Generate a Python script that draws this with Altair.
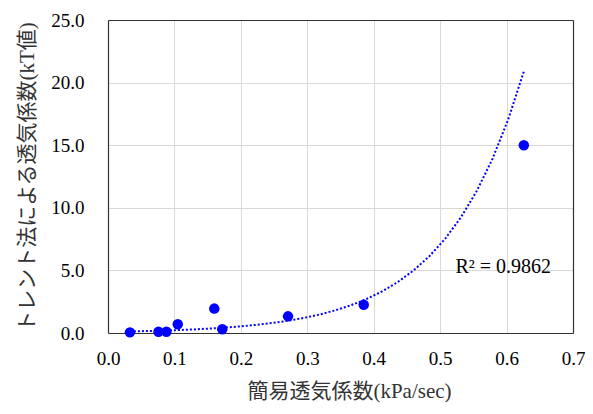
import altair as alt
import pandas as pd

# 簡易透気係数 (kPa/sec)
x_vals = [0.033, 0.076, 0.088, 0.105, 0.160, 0.172, 0.271, 0.385, 0.626]
# トレント法による透気係数 (kT値)
y_vals = [0.05, 0.10, 0.10, 0.70, 1.95, 0.30, 1.33, 2.25, 15.0]

r2_label = ["R² = 0.9862"]
r2_pos_x = [0.595]
r2_pos_y = [5.3]

x_title = "簡易透気係数(kPa/sec)"
y_title = "トレント法による透気係数(kT値)"

x_ticks = [0, 0.1, 0.2, 0.3, 0.4, 0.5, 0.6, 0.7]
y_ticks = [0, 5, 10, 15, 20, 25]

df = pd.DataFrame({"x": x_vals, "y": y_vals})
lab = pd.DataFrame({"x": r2_pos_x, "y": r2_pos_y, "t": r2_label})

FONT = "Liberation Serif, Noto Sans CJK JP"
BORDER = "#333333"

xscale = alt.Scale(domain=[0, 0.7], nice=False)
yscale = alt.Scale(domain=[0, 25], nice=False)

xaxis = alt.Axis(
    title=x_title, values=x_ticks, format=".1f",
    ticks=False, domain=True, domainColor=BORDER, domainWidth=1.2,
    grid=True, gridColor="#d9d9d9", gridWidth=1,
    labelFont=FONT, labelFontSize=19, labelColor="#000", labelPadding=16,
    titleFont=FONT, titleFontSize=21, titleFontWeight="normal", titleColor="#333",
    titlePadding=12, labelFlush=False, titleX=241,
)
yaxis = alt.Axis(
    title=y_title, values=y_ticks, format=".1f",
    ticks=False, domain=True, domainColor=BORDER, domainWidth=1.2,
    grid=True, gridColor="#d9d9d9", gridWidth=1,
    labelFont=FONT, labelFontSize=19, labelColor="#000", labelPadding=24,
    titleFont=FONT, titleFontSize=21, titleFontWeight="normal", titleColor="#333",
    titlePadding=13, labelFlush=False,
)

points = alt.Chart(df).mark_circle(size=110, color="#0000ff", opacity=1).encode(
    x=alt.X("x:Q", scale=xscale, axis=xaxis),
    y=alt.Y("y:Q", scale=yscale, axis=yaxis),
)

trend = alt.Chart(df).transform_calculate(
    ly="log(datum.y)"
).transform_regression(
    "x", "ly", method="poly", order=1
).transform_calculate(
    ey="exp(datum.ly)"
).mark_line(color="#0000ff", strokeWidth=2, strokeDash=[2, 2], strokeCap="butt").encode(
    x=alt.X("x:Q", scale=xscale, axis=xaxis),
    y=alt.Y("ey:Q", scale=yscale, axis=yaxis),
)

text = alt.Chart(lab).mark_text(
    font=FONT, fontSize=20, color="#000", align="center", baseline="middle"
).encode(
    x=alt.X("x:Q", scale=xscale, axis=xaxis),
    y=alt.Y("y:Q", scale=yscale, axis=yaxis),
    text="t:N",
)

base = alt.layer(trend, points, text)

# frame on top and right edges
frame = alt.Chart(df).mark_circle(opacity=0).encode(
    x=alt.X("x:Q", scale=xscale, axis=alt.Axis(
        orient="top", title=None, labels=False, ticks=False, grid=False,
        domain=True, domainColor=BORDER, domainWidth=1.2)),
    y=alt.Y("y:Q", scale=yscale, axis=alt.Axis(
        orient="right", title=None, labels=False, ticks=False, grid=False,
        domain=True, domainColor=BORDER, domainWidth=1.2)),
)

chart = alt.layer(base, frame).resolve_axis(
    x="independent", y="independent"
).properties(
    width=465, height=313,
    autosize=alt.AutoSizeParams(type="none"),
    padding={"left": 100, "top": 12, "right": 12, "bottom": 70},
).configure_view(
    stroke=None
).configure(background="white")

chart.save("out.html", embed_options={"renderer": "svg", "actions": False})
